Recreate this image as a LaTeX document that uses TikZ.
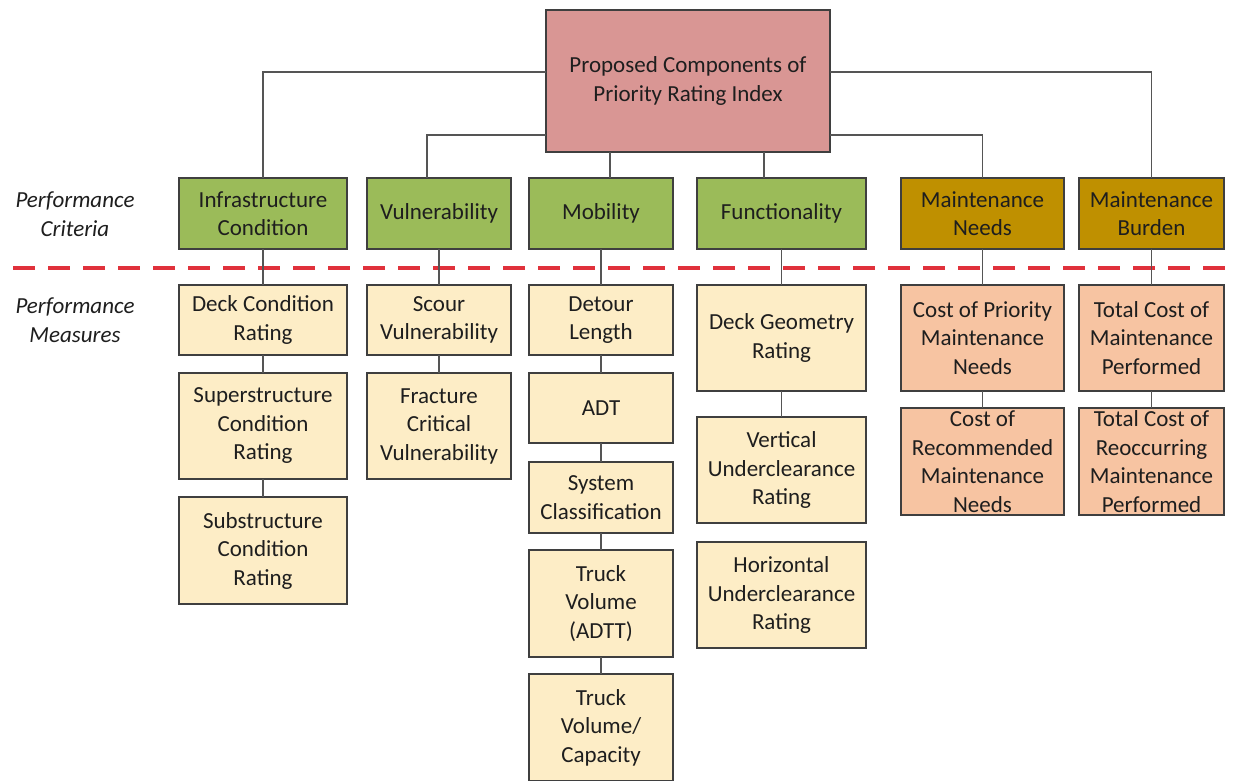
\documentclass[tikz,border=0pt]{standalone}
\usepackage{fontspec}
\setmainfont{Carlito}
\begin{document}
\definecolor{rootfill}{HTML}{D99694}
\definecolor{critgreen}{HTML}{9BBB59}
\definecolor{critgold}{HTML}{BF9000}
\definecolor{measyellow}{HTML}{FDEDC6}
\definecolor{measpeach}{HTML}{F7C4A2}
\definecolor{edgegrey}{HTML}{3F3F3F}
\definecolor{linkgrey}{HTML}{555555}
\definecolor{sepred}{HTML}{E0313B}
\definecolor{txt}{HTML}{1E1E1E}
\begin{tikzpicture}[x=1pt,y=-1pt,
  box/.style={draw=edgegrey, line width=1.3pt, rectangle, inner sep=0pt, outer sep=0pt,
    anchor=north west, align=center, text=txt,
    font=\fontsize{23}{28.5}\selectfont},
  rootbox/.style={box, fill=rootfill},
  critbox/.style={box, fill=critgreen},
  goldbox/.style={box, fill=critgold},
  measbox/.style={box, fill=measyellow},
  costbox/.style={box, fill=measpeach},
  link/.style={draw=linkgrey, line width=1.4pt},
  sidelabel/.style={align=center, text=txt, inner sep=0pt,
    font=\fontsize{23}{28.5}\selectfont\itshape},
  separator/.style={draw=sepred, line width=3.6pt, dash pattern=on 22pt off 13pt}]

\useasboundingbox (0,0) rectangle (1238,780);
\clip (0,0) rectangle (1238,780);

% root
\node[rootbox, minimum width=284pt, minimum height=142pt] (root) at (546,10)
  {Proposed Components of\\Priority Rating Index};

% performance criteria
\node[critbox, minimum width=168pt, minimum height=71pt] (infra) at (179,178) {Infrastructure\\Condition};
\node[critbox, minimum width=144pt, minimum height=71pt] (vuln) at (367,178) {Vulnerability};
\node[critbox, minimum width=144pt, minimum height=71pt] (mob) at (529,178) {Mobility};
\node[critbox, minimum width=169pt, minimum height=71pt] (func) at (697,178) {Functionality};
\node[goldbox, minimum width=163pt, minimum height=71pt] (mneeds) at (901,178) {Maintenance\\Needs};
\node[goldbox, minimum width=145pt, minimum height=71pt] (mburden) at (1079,178) {Maintenance\\Burden};

% performance measures
\node[measbox, minimum width=168pt, minimum height=70pt] (deck) at (179,285) {Deck Condition\\Rating};
\node[measbox, minimum width=168pt, minimum height=106pt] (super) at (179,373) {Superstructure\\Condition\\Rating};
\node[measbox, minimum width=168pt, minimum height=107pt] (sub) at (179,497) {Substructure\\Condition\\Rating};

\node[measbox, minimum width=144pt, minimum height=70pt] (scour) at (367,285) {Scour\\Vulnerability};
\node[measbox, minimum width=144pt, minimum height=106pt] (fract) at (367,373) {Fracture\\Critical\\Vulnerability};

\node[measbox, minimum width=144pt, minimum height=70pt] (detour) at (529,285) {Detour\\Length};
\node[measbox, minimum width=144pt, minimum height=70pt] (adt) at (529,373) {ADT};
\node[measbox, minimum width=144pt, minimum height=71pt] (sysc) at (529,462) {System\\Classification};
\node[measbox, minimum width=144pt, minimum height=107pt] (tadtt) at (529,550) {Truck\\Volume\\(ADTT)};
\node[measbox, minimum width=144pt, minimum height=107pt] (tcap) at (529,674) {Truck\\Volume/\\Capacity};

\node[measbox, minimum width=169pt, minimum height=106pt] (deckgeo) at (697,285) {Deck Geometry\\Rating};
\node[measbox, minimum width=169pt, minimum height=106pt] (vert) at (697,417) {Vertical\\Underclearance\\Rating};
\node[measbox, minimum width=169pt, minimum height=106pt] (horiz) at (697,542) {Horizontal\\Underclearance\\Rating};

\node[costbox, minimum width=163pt, minimum height=106pt] (cprio) at (901,285) {Cost of Priority\\Maintenance\\Needs};
\node[costbox, minimum width=163pt, minimum height=107pt] (crec) at (901,408) {Cost of\\Recommended\\Maintenance\\Needs};
\node[costbox, minimum width=145pt, minimum height=106pt] (tperf) at (1079,285) {Total Cost of\\Maintenance\\Performed};
\node[costbox, minimum width=145pt, minimum height=107pt] (treoc) at (1079,408) {Total Cost of\\Reoccurring\\Maintenance\\Performed};

% row labels
\node[sidelabel] (critlabel) at (75,214) {Performance\\Criteria};
\node[sidelabel] (measlabel) at (75,320) {Performance\\Measures};

% separator between criteria and measures
\coordinate (sepL) at (13,268);
\coordinate (sepR) at (1238,268);
\draw[separator] (sepL) -- (sepR);

% root to criteria
\draw[link] ([yshift=9pt]root.west) -| (infra.north);
\draw[link] ([yshift=-54pt]root.west) -| ([xshift=-12pt]vuln.north);
\draw[link] ([xshift=-78pt]root.south) -- ([xshift=-78pt]root.south |- mob.north);
\draw[link] ([xshift=76pt]root.south) -- ([xshift=76pt]root.south |- func.north);
\draw[link] ([yshift=-54pt]root.east) -| (mneeds.north);
\draw[link] ([yshift=9pt]root.east) -| (mburden.north);

% criteria to measures
\draw[link] (infra.south) -- (deck.north);
\draw[link] (deck.south) -- (super.north);
\draw[link] (super.south) -- (sub.north);
\draw[link] (vuln.south) -- (scour.north);
\draw[link] (scour.south) -- (fract.north);
\draw[link] (mob.south) -- (detour.north);
\draw[link] (detour.south) -- (adt.north);
\draw[link] (adt.south) -- (sysc.north);
\draw[link] (sysc.south) -- (tadtt.north);
\draw[link] (tadtt.south) -- (tcap.north);
\draw[link] (func.south) -- (deckgeo.north);
\draw[link] (deckgeo.south) -- (vert.north);
\draw[link] (mneeds.south) -- (cprio.north);
\draw[link] (cprio.south) -- (crec.north);
\draw[link] (mburden.south) -- (tperf.north);
\draw[link] (tperf.south) -- (treoc.north);
\end{tikzpicture}
\end{document}
